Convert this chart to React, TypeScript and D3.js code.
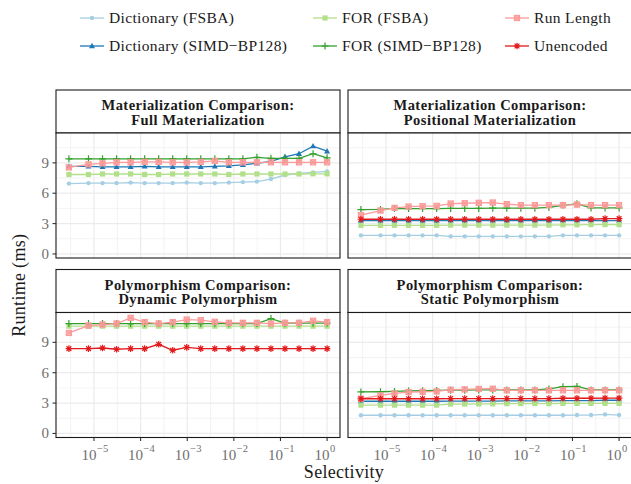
import * as d3 from 'd3';

// selectivity (x) values shared by all panels
const selectivity = [
  2.9e-6, 7.629e-6, 1.526e-5, 3.052e-5, 6.104e-5, 1.221e-4, 2.441e-4, 4.883e-4,
  9.766e-4, 1.953e-3, 3.906e-3, 7.813e-3, 0.015625, 0.03125, 0.0625, 0.125, 0.25, 0.5, 1,
];

const seriesNames = [
  'Dictionary (FSBA)',
  'Dictionary (SIMD\u2212BP128)',
  'FOR (FSBA)',
  'FOR (SIMD\u2212BP128)',
  'Run Length',
  'Unencoded',
];
const seriesColors = ['#A6CEE3', '#1F78B4', '#B2DF8A', '#33A02C', '#FB9A99', '#E31A1C'];
const seriesShapes = ['circle', 'triangle', 'square', 'plus', 'squarecross', 'asterisk'];

const facetTitles = [
  ['Materialization Comparison:', 'Full Materialization'],
  ['Materialization Comparison:', 'Positional Materialization'],
  ['Polymorphism Comparison:', 'Dynamic Polymorphism'],
  ['Polymorphism Comparison:', 'Static Polymorphism'],
];

// runtime (ms) per facet, per series (null = series not in facet)
const fullMat = [
  [6.95, 7.0, 7.0, 7.0, 7.05, 7.0, 7.0, 7.0, 7.05, 7.0, 7.0, 7.05, 7.1, 7.15, 7.4, 7.8, 7.95, 8.05, 8.15],
  [8.65, 8.65, 8.6, 8.6, 8.6, 8.65, 8.6, 8.6, 8.6, 8.6, 8.65, 8.7, 8.8, 8.95, 9.15, 9.6, 9.9, 10.65, 10.15],
  [7.85, 7.85, 7.9, 7.9, 7.9, 7.85, 7.85, 7.9, 7.9, 7.9, 7.9, 7.85, 7.9, 7.9, 7.9, 7.9, 7.9, 7.92, 7.92],
  [9.4, 9.4, 9.4, 9.4, 9.4, 9.4, 9.4, 9.4, 9.4, 9.4, 9.4, 9.4, 9.4, 9.55, 9.45, 9.45, 9.45, 9.9, 9.5],
  [8.55, 8.85, 8.95, 9.05, 9.05, 9.1, 9.1, 9.05, 9.05, 9.1, 9.2, 9.05, 9.05, 9.05, 9.05, 9.05, 9.05, 9.05, 9.05],
  null,
];
const positionalMat = [
  [1.84, 1.84, 1.84, 1.84, 1.84, 1.84, 1.74, 1.74, 1.74, 1.74, 1.74, 1.74, 1.74, 1.74, 1.84, 1.84, 1.84, 1.84, 1.84],
  [3.3, 3.3, 3.3, 3.3, 3.3, 3.3, 3.3, 3.3, 3.3, 3.3, 3.3, 3.3, 3.3, 3.3, 3.3, 3.3, 3.3, 3.3, 3.3],
  [2.83, 2.83, 2.83, 2.83, 2.83, 2.83, 2.85, 2.85, 2.85, 2.85, 2.85, 2.85, 2.85, 2.85, 2.88, 2.88, 2.9, 2.9, 2.9],
  [4.38, 4.4, 4.5, 4.48, 4.48, 4.48, 4.5, 4.5, 4.5, 4.52, 4.52, 4.52, 4.52, 4.6, 4.8, 4.95, 4.55, 4.55, 4.55],
  [3.83, 4.29, 4.55, 4.68, 4.72, 4.75, 4.98, 5.01, 5.05, 5.08, 4.92, 4.82, 4.82, 4.82, 4.82, 4.88, 4.82, 4.82, 4.82],
  [3.43, 3.43, 3.43, 3.43, 3.43, 3.43, 3.43, 3.43, 3.43, 3.43, 3.43, 3.43, 3.43, 3.43, 3.43, 3.43, 3.43, 3.49, 3.49],
];
const dynamicPoly = [
  null,
  null,
  [10.6, 10.6, 10.6, 10.6, 10.6, 10.6, 10.6, 10.6, 10.6, 10.6, 10.6, 10.6, 10.6, 10.6, 10.6, 10.6, 10.6, 10.6, 10.6],
  [10.86, 10.86, 10.86, 10.86, 10.86, 10.86, 10.86, 10.86, 10.86, 10.86, 10.86, 10.86, 10.86, 10.86, 11.35, 10.9, 10.9, 10.9, 10.9],
  [9.93, 10.66, 10.76, 10.86, 11.42, 11.0, 10.86, 11.0, 11.25, 11.19, 11.03, 10.93, 10.93, 10.93, 10.86, 10.93, 10.93, 11.13, 11.0],
  [8.38, 8.38, 8.44, 8.32, 8.38, 8.38, 8.81, 8.22, 8.5, 8.38, 8.38, 8.38, 8.38, 8.38, 8.38, 8.38, 8.38, 8.38, 8.38],
];
const staticPoly = [
  [1.8, 1.8, 1.8, 1.8, 1.8, 1.8, 1.8, 1.8, 1.8, 1.8, 1.8, 1.8, 1.8, 1.8, 1.8, 1.82, 1.82, 1.88, 1.82],
  [3.18, 3.18, 3.18, 3.18, 3.18, 3.18, 3.2, 3.2, 3.2, 3.2, 3.22, 3.22, 3.22, 3.22, 3.25, 3.25, 3.25, 3.28, 3.28],
  [2.8, 2.8, 2.8, 2.8, 2.8, 2.8, 2.9, 2.9, 2.92, 2.92, 2.95, 2.95, 2.95, 2.95, 2.97, 2.97, 2.97, 2.97, 2.97],
  [4.1, 4.12, 4.15, 4.2, 4.22, 4.25, 4.28, 4.28, 4.3, 4.3, 4.3, 4.3, 4.3, 4.4, 4.62, 4.65, 4.3, 4.3, 4.3],
  [3.43, 3.76, 3.95, 4.09, 4.12, 4.15, 4.32, 4.35, 4.4, 4.42, 4.26, 4.26, 4.26, 4.26, 4.26, 4.26, 4.26, 4.26, 4.26],
  [3.43, 3.43, 3.43, 3.43, 3.43, 3.43, 3.45, 3.45, 3.45, 3.45, 3.45, 3.45, 3.45, 3.45, 3.48, 3.48, 3.48, 3.5, 3.5],
];
const facetData = [fullMat, positionalMat, dynamicPoly, staticPoly];

const yTicks = [0, 3, 6, 9];
const yMinor = [1.5, 4.5, 7.5, 10.5];
const xTicks = [1e-5, 1e-4, 1e-3, 1e-2, 1e-1, 1];
const xTickExp = ['\u22125', '\u22124', '\u22123', '\u22122', '\u22121', '0'];

const W = 631;
const H = 484;
const FONT = '"Liberation Serif", "DejaVu Serif", serif';

const panelW = 284;
const panelH = 125;
const stripH = 43;
const colX = [56, 348];
const rowStripY = [90, 269.5];

const logLo = Math.log10(selectivity[0]);
const pad = (0 - logLo) * 0.05;
const x = d3.scaleLog().domain([Math.pow(10, logLo - pad), Math.pow(10, pad)]).range([0, panelW]);
const y = d3.scaleLinear().domain([-0.4, 11.95]).range([panelH, 0]);

const Marker = ({ shape, cx, cy, color }: { shape: string; cx: number; cy: number; color: string }) => {
  const s = 2.6;
  switch (shape) {
    case 'circle':
      return <circle cx={cx} cy={cy} r={2.2} fill={color} />;
    case 'triangle':
      return (
        <path d={`M${cx},${cy - 3.2}L${cx + 3},${cy + 2.2}L${cx - 3},${cy + 2.2}Z`} fill={color} />
      );
    case 'square':
      return <rect x={cx - s} y={cy - s} width={2 * s} height={2 * s} fill={color} />;
    case 'plus':
      return (
        <path d={`M${cx - 3.5},${cy}H${cx + 3.5}M${cx},${cy - 3.5}V${cy + 3.5}`} stroke={color} strokeWidth={1.2} />
      );
    case 'squarecross':
      return (
        <g stroke={color} strokeWidth={1.1} fill="none">
          <rect x={cx - s} y={cy - s} width={2 * s} height={2 * s} fill={color} fillOpacity={0.6} />
          <path d={`M${cx - s},${cy - s}L${cx + s},${cy + s}M${cx - s},${cy + s}L${cx + s},${cy - s}`} />
        </g>
      );
    default:
      return (
        <path
          d={`M${cx - 3.3},${cy}H${cx + 3.3}M${cx},${cy - 3.3}V${cy + 3.3}M${cx - 2.4},${cy - 2.4}L${cx + 2.4},${cy + 2.4}M${cx - 2.4},${cy + 2.4}L${cx + 2.4},${cy - 2.4}`}
          stroke={color}
          strokeWidth={1.2}
        />
      );
  }
};

const Facet = ({ idx }: { idx: number }) => {
  const col = idx % 2;
  const row = Math.floor(idx / 2);
  const left = colX[col];
  const stripTop = rowStripY[row];
  const top = stripTop + stripH;
  const data = facetData[idx];
  const line = d3
    .line<number>()
    .x((_, i) => x(selectivity[i]))
    .y((v) => y(v));
  const majorX = xTicks;
  const minorX = [-5.5, -4.5, -3.5, -2.5, -1.5, -0.5].map((e) => Math.pow(10, e));
  return (
    <g>
      {/* strip */}
      <rect x={left} y={stripTop} width={panelW} height={stripH} fill="#fff" stroke="#1a1a1a" strokeWidth={1.1} />
      {facetTitles[idx].map((t, k) => (
        <text
          key={k}
          x={left + panelW / 2}
          y={stripTop + 20 + k * 14.5}
          textAnchor="middle"
          fontFamily={FONT}
          fontWeight="bold"
          fontSize={14.5}
          letterSpacing={0.45}
          fill="#1a1a1a"
        >
          {t}
        </text>
      ))}
      <g transform={`translate(${left},${top})`}>
        <rect width={panelW} height={panelH} fill="#fff" />
        {yMinor.map((v) => (
          <line key={'ym' + v} x1={0} x2={panelW} y1={y(v)} y2={y(v)} stroke="#EBEBEB" strokeWidth={0.6} />
        ))}
        {minorX.map((v, i) => (
          <line key={'xm' + i} x1={x(v)} x2={x(v)} y1={0} y2={panelH} stroke="#EBEBEB" strokeWidth={0.6} />
        ))}
        {yTicks.map((v) => (
          <line key={'yM' + v} x1={0} x2={panelW} y1={y(v)} y2={y(v)} stroke="#EBEBEB" strokeWidth={1.2} />
        ))}
        {majorX.map((v, i) => (
          <line key={'xM' + i} x1={x(v)} x2={x(v)} y1={0} y2={panelH} stroke="#EBEBEB" strokeWidth={1.2} />
        ))}
        {data.map((vals, s) =>
          vals ? (
            <g key={s}>
              <path d={line(vals) || ''} fill="none" stroke={seriesColors[s]} strokeWidth={1.3} />
              {vals.map((v, i) => (
                <Marker key={i} shape={seriesShapes[s]} cx={x(selectivity[i])} cy={y(v)} color={seriesColors[s]} />
              ))}
            </g>
          ) : null,
        )}
        <rect width={panelW} height={panelH} fill="none" stroke="#1a1a1a" strokeWidth={1.1} />
        {col === 0 &&
          yTicks.map((v) => (
            <g key={'yt' + v}>
              <line x1={-3.5} x2={0} y1={y(v)} y2={y(v)} stroke="#333" strokeWidth={1.1} />
              <text x={-7} y={y(v) + 5} textAnchor="end" fontFamily={FONT} fontSize={15} fill="#707070">
                {v}
              </text>
            </g>
          ))}
        {row === 1 &&
          majorX.map((v, i) => (
            <g key={'xt' + i}>
              <line x1={x(v)} x2={x(v)} y1={panelH} y2={panelH + 3.5} stroke="#333" strokeWidth={1.1} />
              <text x={x(v) - 5} y={panelH + 22} textAnchor="middle" fontFamily={FONT} fontSize={15} fill="#707070">
                10
              </text>
              <text x={x(v) + 3} y={panelH + 14} textAnchor="start" fontFamily={FONT} fontSize={10.5} fill="#707070">
                {xTickExp[i]}
              </text>
            </g>
          ))}
      </g>
    </g>
  );
};

const legendCols = [80, 313, 505];
const legendRows = [18, 46];

const App = () => (
  <svg width={W} height={H} style={{ display: 'block', position: 'absolute', left: 0, top: 0 }}>
    <rect width={W} height={H} fill="#fff" />
    {seriesNames.map((name, s) => {
      const cx = legendCols[Math.floor(s / 2)];
      const cy = legendRows[s % 2];
      return (
        <g key={name}>
          <line x1={cx} x2={cx + 24} y1={cy} y2={cy} stroke={seriesColors[s]} strokeWidth={1.3} />
          <Marker shape={seriesShapes[s]} cx={cx + 12} cy={cy} color={seriesColors[s]} />
          <text x={cx + 29} y={cy + 5} fontFamily={FONT} fontSize={15.5} letterSpacing={0.35} fill="#1a1a1a">
            {name}
          </text>
        </g>
      );
    })}
    {[0, 1, 2, 3].map((i) => (
      <Facet key={i} idx={i} />
    ))}
    <text
      transform={`translate(25,${(rowStripY[0] + stripH + rowStripY[1] + stripH + panelH) / 2}) rotate(-90)`}
      textAnchor="middle"
      fontFamily={FONT}
      fontSize={18}
      letterSpacing={0.3}
      fill="#1a1a1a"
    >
      Runtime (ms)
    </text>
    <text
      x={(colX[0] + colX[1] + panelW) / 2}
      y={478}
      textAnchor="middle"
      fontFamily={FONT}
      fontSize={18}
      letterSpacing={0.3}
      fill="#1a1a1a"
    >
      Selectivity
    </text>
  </svg>
);

export default App;
